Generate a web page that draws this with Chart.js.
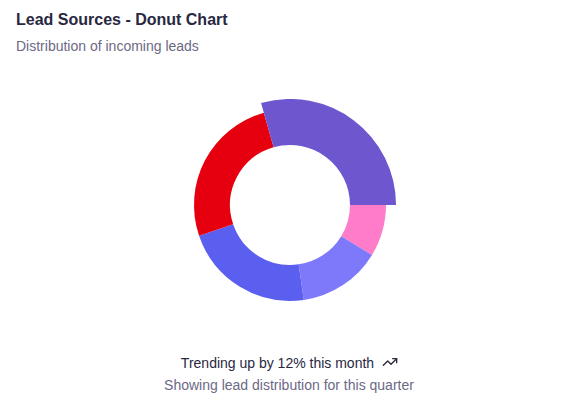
<!DOCTYPE html>
<html>
<head>
<meta charset="utf-8">
<script src="https://cdn.jsdelivr.net/npm/chart.js@4.4.1/dist/chart.umd.min.js"></script>
<style>
  html, body { margin: 0; padding: 0; background: #fff; }
  body { width: 573px; height: 403px; position: relative; font-family: "Liberation Sans", Arial, sans-serif; }
  #title { position: absolute; left: 16px; top: 11px; font-size: 16px; font-weight: bold; color: #29283f; }
  #subtitle { position: absolute; left: 16px; top: 38px; font-size: 14px; color: #6c6985; }
  #chartBox { position: absolute; left: 184px; top: 99px; width: 212px; height: 212px; }
  #trend { position: absolute; left: 0; width: 573px; top: 354px; text-align: center; font-size: 14px; color: #29283f; padding-left: 6px; box-sizing: border-box; }
  #trend svg { vertical-align: -2px; margin-left: 8px; }
  #note { position: absolute; left: 0; width: 573px; top: 377px; text-align: center; font-size: 14px; color: #6c6985; padding-left: 5px; box-sizing: border-box; }
</style>
</head>
<body>
<div id="title">Lead Sources - Donut Chart</div>
<div id="subtitle">Distribution of incoming leads</div>
<div id="chartBox"><canvas id="leadChart"></canvas></div>
<div id="trend">Trending up by 12% this month<svg width="16" height="16" viewBox="0 0 24 24" fill="none" stroke="#29283f" stroke-width="2" stroke-linecap="round" stroke-linejoin="round"><polyline points="22 7 13.5 15.5 8.5 10.5 2 17"></polyline><polyline points="16 7 22 7 22 13"></polyline></svg></div>
<div id="note">Showing lead distribution for this quarter</div>

<script>
'use strict';
// lead sources, counted counter-clockwise from 3 o'clock like the picture
let sources=['Website', 'Referral', 'Social Media', 'Email', 'Events'];
let leads=[294, 258, 221, 140, 87];
let colors=['#6e56cf', '#e6000f', '#5b5fef', '#7e79fa', '#ff7ccb'];

//Chart.js goes clockwise, so feed it reversed
let labelsCW=sources.slice().reverse();
let leadsCW=leads.slice().reverse();
let colorsCW=colors.slice().reverse();
let activeIndex=leadsCW.length-1; // first source drawn bigger

//shrink the other slices so the active one sticks out
let activePlugin={
  id: 'activeSlice',
  afterDatasetUpdate(chart, args){
    let meta=chart.getDatasetMeta(args.index);
    for(let i=0;i<meta.data.length;i++){
      if(i!==activeIndex){
        meta.data[i].outerRadius=meta.data[i].outerRadius-10;
      }
    }
  }
};

let ctx=document.getElementById('leadChart').getContext('2d');
new Chart(ctx, {
  type: 'doughnut',
  data: {
    labels: labelsCW,
    datasets: [{
      data: leadsCW,
      backgroundColor: colorsCW,
      borderWidth: 0
    }]
  },
  options: {
    responsive: true,
    maintainAspectRatio: false,
    animation: false,
    rotation: 90,
    cutout: 60,
    layout: { padding: 0 },
    plugins: {
      legend: { display: false },
      tooltip: { enabled: false }
    },
    events: []
  },
  plugins: [activePlugin]
});
</script>
</body>
</html>
